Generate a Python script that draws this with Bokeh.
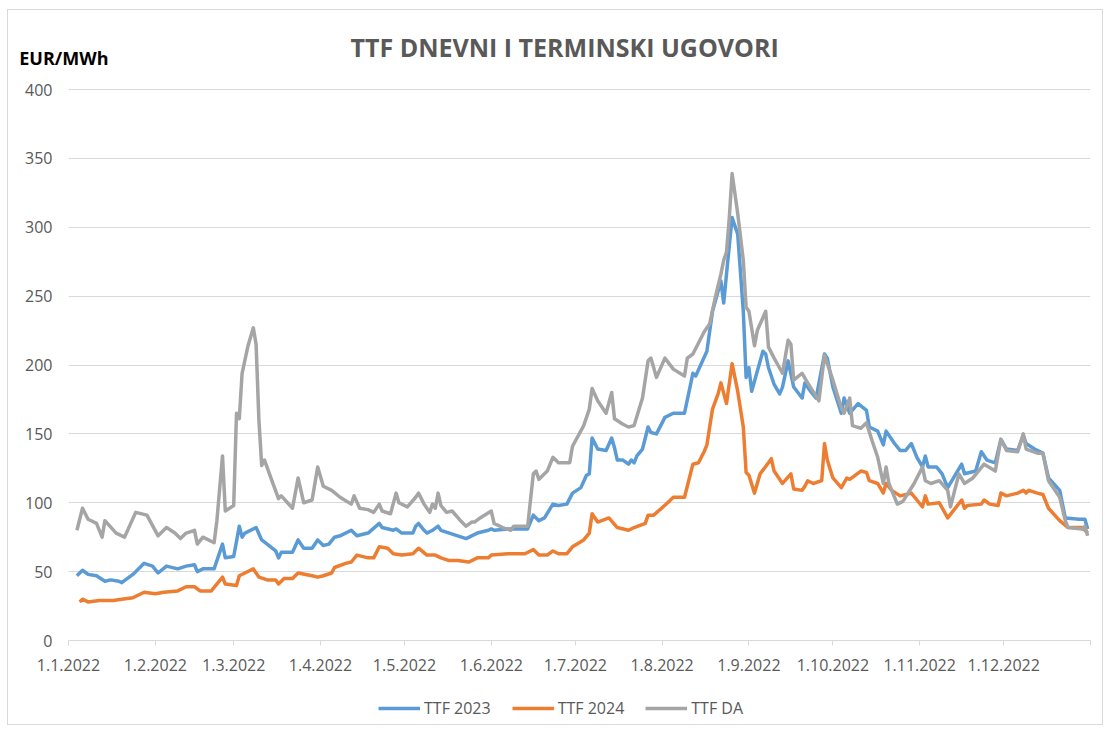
import pandas as pd
from bokeh.plotting import figure
from bokeh.layouts import column
from bokeh.models import (ColumnDataSource, Range1d, FixedTicker, DatetimeTickFormatter,
                          Legend, LegendItem, Title, LinearAxis, CustomJSTickFormatter)
from bokeh.embed import file_html
from bokeh.resources import INLINE

# ---- data (day offset from 1.1.2022, value in EUR/MWh) ----
ttf2023_days = [3, 5, 7, 10, 13, 15, 18, 19, 23, 27, 30, 32, 35, 39, 42, 45, 46, 48, 52, 55, 56, 59, 61, 62, 63,
                67, 69, 74, 75, 76, 80, 82, 84, 87, 89, 91, 93, 95, 97, 101, 103, 107, 111, 112, 116, 117, 119,
                123, 124, 125, 127, 128, 130, 132, 133, 136, 139, 142, 146, 150, 151, 152, 157, 159, 164, 166,
                168, 170, 173, 175, 178, 180, 183, 185, 186, 187, 189, 192, 194, 195, 196, 198, 200, 201, 202,
                203, 205, 207, 208, 210, 213, 216, 220, 223, 224, 228, 230, 233, 234, 235, 237, 239, 241, 242,
                243, 244, 248, 249, 250, 252, 254, 255, 257, 259, 262, 263, 265, 267, 270, 271, 273, 276, 277,
                279, 282, 285, 286, 289, 291, 292, 295, 297, 299, 301, 303, 305, 306, 307, 310, 312, 314, 319,
                320, 324, 326, 328, 331, 333, 335, 339, 341, 342, 345, 348, 350, 354, 356, 361, 363, 364]
ttf2023_vals = [47, 51, 48, 47, 43, 44, 43, 42, 48, 56, 54, 49, 54, 52, 54, 55, 50, 52, 52, 70, 60, 61, 83, 75, 78,
                82, 73, 65, 60, 64, 64, 73, 67, 67, 73, 69, 70, 75, 76, 80, 76, 78, 85, 82, 80, 81, 78,
                78, 83, 85, 80, 78, 80, 83, 80, 78, 76, 74, 78, 80, 81, 80, 81, 81, 81, 91,
                87, 89, 99, 98, 99, 107, 111, 120, 121, 147, 139, 138, 147, 140, 131, 131, 128, 131, 129,
                134, 139, 155, 151, 150, 162, 165, 165, 194, 192, 210, 239, 261, 245, 266, 307, 295, 239, 191,
                198, 181, 210, 208, 198, 186, 179, 184, 203, 184, 176, 187, 181, 176, 208, 205, 184, 165, 176,
                165, 172, 167, 155, 152, 142, 152, 143, 138, 138, 143, 133, 126, 134, 126, 126, 121, 111, 128,
                121, 123, 137, 131, 129, 146, 139, 138, 149, 143, 139, 136, 118, 109, 89, 88, 88, 81]

ttf2024_days = [4, 5, 7, 11, 16, 19, 23, 27, 31, 34, 39, 42, 45, 47, 51, 55, 56, 60, 61, 63, 66, 67, 68, 71, 74,
                75, 77, 80, 82, 87, 89, 91, 94, 95, 99, 101, 103, 107, 109, 111, 114, 116, 119, 123, 124, 125,
                128, 131, 133, 136, 139, 143, 146, 150, 151, 157, 163, 166, 168, 171, 173, 175, 178, 180, 184,
                186, 187, 189, 193, 196, 200, 202, 206, 207, 209, 214, 216, 220, 223, 225, 226, 227, 228, 230,
                232, 233, 235, 237, 239, 241, 242, 243, 245, 247, 250, 251, 252, 255, 258, 259, 262, 263, 264,
                266, 269, 270, 271, 273, 276, 278, 279, 283, 285, 286, 289, 291, 292, 294, 297, 301, 303, 305,
                306, 307, 311, 314, 319, 320, 321, 326, 327, 329, 332, 333, 335, 339, 341, 342, 343, 346, 348,
                350, 354, 357, 362, 364]
ttf2024_vals = [28, 30, 28, 29, 29, 30, 31, 35, 34, 35, 36, 39, 39, 36, 36, 46, 41, 40, 47, 49, 52, 49, 46, 44, 44,
                41, 45, 45, 49, 47, 46, 47, 49, 53, 56, 57, 62, 60, 60, 68, 67, 63, 62, 63, 65, 67,
                62, 62, 60, 58, 58, 57, 60, 60, 62, 63, 63, 66, 62, 62, 65, 63, 63, 68, 73,
                78, 92, 86, 89, 82, 80, 82, 85, 91, 91, 100, 104, 104, 128, 129, 133, 137, 142, 168,
                179, 187, 172, 201, 181, 155, 122, 120, 107, 121, 129, 132, 123, 114, 121, 110, 109, 112, 116,
                114, 116, 143, 131, 118, 111, 118, 117, 123, 122, 116, 114, 107, 114, 109, 105, 107, 102, 97,
                105, 99, 100, 89, 102, 96, 98, 99, 102, 99, 98, 107, 105, 107, 109, 107, 109, 107, 106,
                96, 87, 82, 82, 78]

ttfda_days = [3, 4, 5, 7, 10, 12, 13, 17, 20, 24, 28, 32, 35, 38, 40, 42, 45, 46, 48, 52, 53, 55, 56, 59, 60, 61,
              62, 64, 66, 67, 68, 69, 70, 73, 75, 76, 80, 82, 84, 87, 89, 91, 94, 97, 101, 102, 104, 107, 109,
              111, 112, 115, 117, 118, 121, 124, 125, 127, 129, 130, 131, 132, 133, 135, 137, 140, 142, 144,
              145, 147, 151, 152, 155, 158, 159, 161, 164, 166, 167, 168, 171, 173, 175, 179, 180, 184, 186,
              187, 189, 192, 194, 195, 198, 200, 202, 205, 207, 208, 210, 213, 216, 220, 221, 223, 227, 229,
              231, 233, 234, 235, 236, 237, 239, 241, 242, 243, 245, 246, 249, 250, 252, 255, 257, 258, 259,
              262, 264, 268, 270, 273, 276, 277, 279, 280, 283, 285, 287, 289, 291, 292, 293, 296, 298, 302,
              305, 306, 308, 311, 314, 315, 318, 320, 323, 327, 331, 333, 335, 339, 341, 342, 346, 348, 350,
              354, 356, 357, 362, 363, 364]
ttfda_vals = [80, 88, 96, 88, 85, 75, 87, 78, 75, 93, 91, 76, 82, 78, 74, 78, 80, 70, 75, 71, 87, 134, 94, 98, 165, 161,
              194, 213, 227, 215, 160, 127, 131, 114, 103, 105, 96, 118, 100, 102, 126, 112, 109, 104, 99, 105, 96, 95, 93,
              99, 94, 92, 107, 100, 97, 104, 107, 99, 93, 99, 96, 107, 98, 93, 94, 87, 83, 86,
              86, 89, 94, 85, 82, 80, 83, 83, 83, 121, 123, 117, 123, 133, 129, 129, 141, 156, 168,
              183, 174, 165, 180, 161, 157, 155, 156, 176, 203, 205, 191, 205, 197, 192, 205, 208, 224, 230,
              249, 266, 276, 282, 307, 339, 310, 276, 242, 239, 214, 225, 239, 213, 205, 194, 218, 215, 189,
              194, 187, 174, 207, 189, 169, 165, 176, 156, 154, 158, 145, 133, 114, 126, 114, 99, 101, 114,
              126, 116, 114, 116, 109, 97, 121, 114, 118, 128, 123, 146, 138, 137, 150, 139, 136, 136, 116,
              104, 87, 82, 81, 83, 76]

series_names = ["TTF 2023", "TTF 2024", "TTF DA"]
series_colors = ["#5B9BD5", "#ED7D31", "#A5A5A5"]
y_ticks = [0, 50, 100, 150, 200, 250, 300, 350, 400]
month_starts = ["2022-%02d-01" % m for m in range(1, 13)]
chart_title = "TTF DNEVNI I TERMINSKI UGOVORI"
unit_label = "EUR/MWh"

start = pd.Timestamp("2022-01-01")
end = pd.Timestamp("2023-01-01")


def to_dates(days):
    return start + pd.to_timedelta(days, unit="D")


FONT = "Open Sans"
GRAY_TXT = "#595959"
GRID = "#D9D9D9"
W = 1094
FRAME_H = 584                     # 551 px for 0..400, plus headroom for the unit label
Y_TOP = 400 * FRAME_H / 551.0
UNIT_Y = 423.0                    # level of the unit label, just above the 400 line

# ---- main chart ----
p = figure(frame_width=1022, frame_height=FRAME_H, x_axis_type="datetime", output_backend="svg",
           toolbar_location=None,
           x_range=Range1d(start, end), y_range=Range1d(0, Y_TOP),
           min_border_left=60, min_border_right=W - 60 - 1022, min_border_top=46, min_border_bottom=52)
p.title.visible = False
p.outline_line_color = None
p.background_fill_color = "white"
p.border_fill_color = "white"

for days, vals, color in [(ttf2023_days, ttf2023_vals, series_colors[0]),
                          (ttf2024_days, ttf2024_vals, series_colors[1]),
                          (ttfda_days, ttfda_vals, series_colors[2])]:
    src = ColumnDataSource(dict(date=to_dates(days), val=vals))
    p.line(x="date", y="val", source=src, line_width=3.5, line_color=color, line_join="round")

p.yaxis.ticker = FixedTicker(ticks=y_ticks)
p.yaxis.axis_line_color = None
p.yaxis.major_tick_line_color = None
p.yaxis.minor_tick_line_color = None
p.yaxis.major_tick_out = 0
p.yaxis.major_tick_in = 0
p.yaxis.minor_tick_out = 0
p.yaxis.minor_tick_in = 0
p.yaxis.major_label_text_color = GRAY_TXT
p.yaxis.major_label_text_font = FONT
p.yaxis.major_label_text_font_size = "16px"
p.yaxis.major_label_standoff = 16

# unit label drawn as the single tick label of a second left axis
unit_axis = LinearAxis(ticker=FixedTicker(ticks=[UNIT_Y]),
                       formatter=CustomJSTickFormatter(code="return '%s'" % unit_label),
                       axis_line_color=None, major_tick_line_color=None, minor_tick_line_color=None,
                       major_tick_out=0, major_tick_in=0, minor_tick_out=0, minor_tick_in=0,
                       major_label_standoff=-86, major_label_text_font=FONT,
                       major_label_text_font_size="18px", major_label_text_font_style="bold",
                       major_label_text_color="#000000")
p.add_layout(unit_axis, "left")

tick_ms = [pd.Timestamp(d).value / 1e6 for d in month_starts]
p.xaxis.ticker = FixedTicker(ticks=tick_ms, minor_ticks=[end.value / 1e6])
fmt = "%-d.%-m.%Y"
p.xaxis.formatter = DatetimeTickFormatter(days=fmt, months=fmt, years=fmt, hours=fmt,
                                          minutes=fmt, seconds=fmt, milliseconds=fmt,
                                          microseconds=fmt, hourmin=fmt, minsec=fmt)
p.xaxis.axis_line_color = GRID
p.xaxis.major_tick_line_color = GRID
p.xaxis.minor_tick_line_color = GRID
p.xaxis.major_tick_in = 0
p.xaxis.major_tick_out = 5
p.xaxis.minor_tick_in = 0
p.xaxis.minor_tick_out = 5
p.xaxis.major_label_text_color = GRAY_TXT
p.xaxis.major_label_text_font = FONT
p.xaxis.major_label_text_font_size = "16px"
p.xaxis.major_label_standoff = 13

p.xgrid.grid_line_color = None
p.ygrid.grid_line_color = GRID
p.ygrid.grid_line_width = 1

main_title = Title(text=chart_title, align="left", offset=282, standoff=-15,
                   text_font=FONT, text_font_size="25px", text_font_style="bold", text_color=GRAY_TXT)
p.add_layout(main_title, "above")

# ---- legend strip ----
leg = figure(width=W, height=32, output_backend="svg", toolbar_location=None,
             x_axis_location=None, y_axis_location=None,
             x_range=Range1d(0, 1), y_range=Range1d(0, 1),
             min_border=0, min_border_left=9, min_border_right=0, min_border_top=0, min_border_bottom=0)
leg.grid.visible = False
leg.outline_line_color = None
leg.title.visible = False
leg_renderers = [leg.line(x=[5, 6], y=[5, 5], line_width=3.5, line_color=c) for c in series_colors]
legend = Legend(items=[LegendItem(label=n, renderers=[r]) for n, r in zip(series_names, leg_renderers)],
                orientation="horizontal", location=(310, 5),
                border_line_color=None, background_fill_alpha=0,
                label_text_color=GRAY_TXT, label_text_font=FONT, label_text_font_size="16px",
                glyph_width=42, glyph_height=20, label_standoff=4, spacing=21, margin=0, padding=0)
leg.add_layout(legend)

layout = column(p, leg, spacing=0)
layout.styles = {"border": "1px solid #D9D9D9", "margin-left": "7px", "margin-top": "9px"}

open("out.html", "w").write(file_html(layout, INLINE))
